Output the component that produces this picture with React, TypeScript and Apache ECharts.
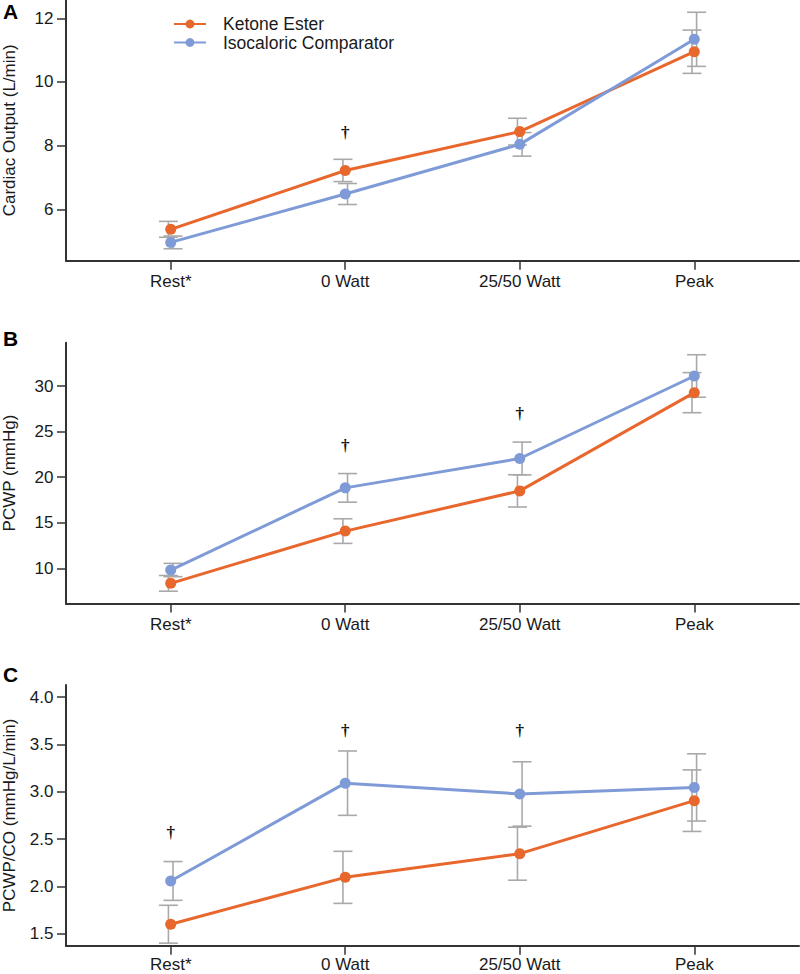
import React, { useEffect, useRef } from "react";
import * as echarts from "echarts";

const categories = ["Rest*", "0 Watt", "25/50 Watt", "Peak"];
const catPos = [0, 1, 2, 3];

// Panel A: Cardiac Output (L/min)
const coKetone = [5.37, 7.22, 8.44, 10.95];
const coKetoneSE = [0.25, 0.35, 0.42, 0.68];
const coIso = [4.96, 6.48, 8.04, 11.34];
const coIsoSE = [0.2, 0.33, 0.37, 0.85];
const coTicks = [6, 8, 10, 12];
const coDaggers: [number, number][] = [[1, 8.4]];

// Panel B: PCWP (mmHg)
const pcwpKetone = [8.36, 14.09, 18.5, 29.27];
const pcwpKetoneSE = [0.86, 1.35, 1.77, 2.2];
const pcwpIso = [9.82, 18.83, 22.05, 31.1];
const pcwpIsoSE = [0.73, 1.57, 1.8, 2.33];
const pcwpTicks = [10, 15, 20, 25, 30];
const pcwpDaggers: [number, number][] = [[1, 23.5], [2, 27.0]];

// Panel C: PCWP/CO (mmHg/L/min)
const ratioKetone = [1.6, 2.095, 2.345, 2.905];
const ratioKetoneSE = [0.2, 0.275, 0.28, 0.325];
const ratioIso = [2.057, 3.09, 2.976, 3.045];
const ratioIsoSE = [0.205, 0.34, 0.34, 0.355];
const ratioTicks = [1.5, 2.0, 2.5, 3.0, 3.5, 4.0];
const ratioDaggers: [number, number][] = [[0, 2.57], [1, 3.65], [2, 3.65]];

const ORANGE = "#E8672D";
const BLUE = "#7F9BD7";
const GRAY = "#A9A9A9";
const AXIS = "#333333";
const FONT = "'Liberation Sans', Arial, Helvetica, sans-serif";

export default function App() {
  const ref = useRef<HTMLDivElement>(null);

  useEffect(() => {
    if (!ref.current) return;
    const chart = echarts.init(ref.current, undefined, { renderer: "svg" });

    const panels = [
      { name: "Cardiac Output (L/min)", ke: coKetone, keSE: coKetoneSE, iso: coIso, isoSE: coIsoSE, ticks: coTicks, daggers: coDaggers, min: 4.385, max: 12.575, top: 0, xMargin: 13, fmt: (v: number) => String(v) },
      { name: "PCWP (mmHg)", ke: pcwpKetone, keSE: pcwpKetoneSE, iso: pcwpIso, isoSE: pcwpIsoSE, ticks: pcwpTicks, daggers: pcwpDaggers, min: 6.16, max: 34.75, top: 342.7, xMargin: 13, fmt: (v: number) => String(v) },
      { name: "PCWP/CO (mmHg/L/min)", ke: ratioKetone, keSE: ratioKetoneSE, iso: ratioIso, isoSE: ratioIsoSE, ticks: ratioTicks, daggers: ratioDaggers, min: 1.373, max: 4.127, top: 685, xMargin: 11, fmt: (v: number) => v.toFixed(1) },
    ];
    const gridH = 260.7;

    const grid: any[] = [];
    const xAxis: any[] = [];
    const yAxis: any[] = [];
    const series: any[] = [];

    const errRender = (off: number) => (params: any, api: any) => {
      const x = api.value(0);
      const lo = api.coord([x, api.value(1)]);
      const hi = api.coord([x, api.value(2)]);
      const cx = lo[0] + off;
      const w = 9.5;
      const st = { stroke: GRAY, lineWidth: 1.6 };
      return {
        type: "group",
        children: [
          { type: "line", shape: { x1: cx, y1: lo[1], x2: cx, y2: hi[1] }, style: st },
          { type: "line", shape: { x1: cx - w, y1: lo[1], x2: cx + w, y2: lo[1] }, style: st },
          { type: "line", shape: { x1: cx - w, y1: hi[1], x2: cx + w, y2: hi[1] }, style: st },
        ],
      };
    };

    panels.forEach((p, i) => {
      grid.push({ left: 66, right: 1, top: p.top, height: gridH, containLabel: false, outerBoundsMode: "none" });
      xAxis.push({
        type: "value",
        gridIndex: i,
        min: -0.6,
        max: 3.6,
        splitLine: { show: false },
        axisLine: { onZero: false, lineStyle: { color: AXIS, width: 2 } },
        axisTick: { show: true, length: 9, customValues: catPos, lineStyle: { color: AXIS, width: 1.5 } },
        axisLabel: {
          customValues: catPos,
          formatter: (v: number) => categories[Math.round(v)] ?? "",
          color: "#1a1a1a",
          fontSize: 17,
          lineHeight: 16,
          fontFamily: FONT,
          margin: p.xMargin,
        },
      });
      yAxis.push({
        type: "value",
        gridIndex: i,
        min: p.min,
        max: p.max,
        name: p.name,
        nameLocation: "middle",
        nameGap: 48,
        nameTextStyle: { color: "#1a1a1a", fontSize: 17, fontFamily: FONT },
        splitLine: { show: false },
        axisLine: { show: true, onZero: false, lineStyle: { color: AXIS, width: 2 } },
        axisTick: { show: true, length: 9, customValues: p.ticks, lineStyle: { color: AXIS, width: 1.5 } },
        axisLabel: {
          customValues: p.ticks,
          formatter: p.fmt,
          color: "#1a1a1a",
          fontSize: 17,
          fontFamily: FONT,
          margin: 12.5,
        },
      });

      const groups = [
        { nm: "Ketone Ester", vals: p.ke, se: p.keSE, color: ORANGE, off: -2.3 },
        { nm: "Isocaloric Comparator", vals: p.iso, se: p.isoSE, color: BLUE, off: 2.3 },
      ];
      groups.forEach((g) => {
        series.push({
          type: "custom",
          name: g.nm + " SE",
          xAxisIndex: i,
          yAxisIndex: i,
          z: 1,
          silent: true,
          itemStyle: { color: GRAY },
          encode: { x: 0, y: [1, 2] },
          renderItem: errRender(g.off),
          data: g.vals.map((v, k) => [catPos[k], v - g.se[k], v + g.se[k]]),
        });
      });
      groups.forEach((g) => {
        series.push({
          type: "line",
          name: g.nm,
          xAxisIndex: i,
          yAxisIndex: i,
          z: 3,
          symbol: "circle",
          symbolSize: 11,
          showSymbol: true,
          lineStyle: { color: g.color, width: 3 },
          itemStyle: { color: g.color },
          data: g.vals.map((v, k) => [catPos[k], v]),
        });
      });
      series.push({
        type: "custom",
        name: "sig" + i,
        xAxisIndex: i,
        yAxisIndex: i,
        z: 4,
        silent: true,
        itemStyle: { color: "#111111" },
        encode: { x: 0, y: 1 },
        renderItem: (params: any, api: any) => {
          const pt = api.coord([api.value(0), api.value(1)]);
          return {
            type: "text",
            x: pt[0],
            y: pt[1],
            rotation: 0.0001,
            style: {
              text: "\u2020",
              fill: "#111111",
              fontSize: 17,
              fontWeight: "bold",
              fontFamily: "'Liberation Serif', 'DejaVu Serif', serif",
              align: "center",
              verticalAlign: "middle",
              textAlign: "center",
              textVerticalAlign: "middle",
            },
          };
        },
        data: p.daggers,
      });
    });

    const labelStyle = { fill: "#000", fontSize: 21, fontWeight: "bold", fontFamily: FONT, verticalAlign: "middle", textVerticalAlign: "middle" };

    chart.setOption({
      animation: false,
      backgroundColor: "#ffffff",
      grid,
      xAxis,
      yAxis,
      series,
      legend: {
        data: ["Ketone Ester", "Isocaloric Comparator"],
        orient: "vertical",
        left: 173,
        top: 15,
        padding: 0,
        itemWidth: 32,
        itemHeight: 11,
        itemGap: 0.5,
        textStyle: { fontSize: 17.5, fontFamily: FONT, color: "#1a1a1a", lineHeight: 17, padding: [0, 0, 0, 12] },
      },
      graphic: [
        { type: "text", left: 3, top: 1, style: { text: "A", ...labelStyle } },
        { type: "text", left: 3, top: 328, style: { text: "B", ...labelStyle } },
        { type: "text", left: 3, top: 664, style: { text: "C", ...labelStyle } },
      ],
    });

    return () => chart.dispose();
  }, []);

  return <div ref={ref} style={{ position: "absolute", left: 0, top: 0, width: 800, height: 974 }} />;
}
